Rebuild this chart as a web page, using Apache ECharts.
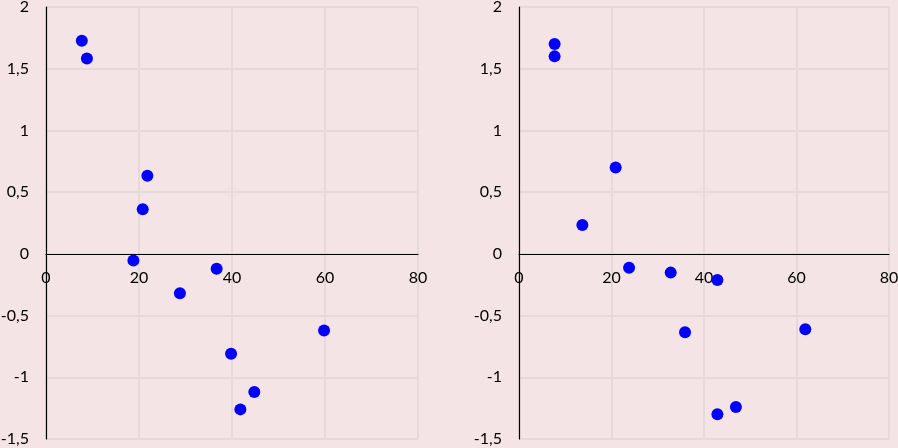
<!DOCTYPE html>
<html>
<head>
<meta charset="utf-8">
<script src="https://cdn.jsdelivr.net/npm/echarts@6/dist/echarts.min.js"></script>
<style>
  html, body { margin: 0; padding: 0; background: #f5e4e6; }
  #chart { width: 898px; height: 448px; }
</style>
</head>
<body>
<div id="chart"></div>
<script>
// left panel points
const leftX = [7.7, 8.8, 21.8, 20.8, 18.8, 36.7, 28.8, 39.8, 59.8, 44.8, 41.8]
const leftY = [1.726, 1.583, 0.632, 0.362, -0.054, -0.12, -0.32, -0.81, -0.62, -1.12, -1.26]

// right panel points
const rightX = [7.7, 7.7, 20.9, 13.7, 23.8, 32.8, 42.9, 35.9, 61.9, 46.9, 42.9]
const rightY = [1.70, 1.60, 0.70, 0.233, -0.113, -0.152, -0.211, -0.635, -0.61, -1.24, -1.30]

const xTicks = { min: 0, max: 80, interval: 20 }
const yTicks = { min: -1.5, max: 2, interval: 0.5 }

const gridTop = 7
const gridHeight = 432
// x axis sits at y = 0, so lift the whole axis (line + labels) up from the bottom
const zeroLift = -gridHeight * (0 - yTicks.min) / (yTicks.max - yTicks.min)

const pairs = (xs, ys) => xs.map((x, i) => [x, ys[i]])

const labelFont = {
  fontFamily: 'Lato',
  fontSize: 16,
  color: '#000'
}

const makeX = (gridIndex) => ({
  type: 'value',
  gridIndex,
  min: xTicks.min,
  max: xTicks.max,
  interval: xTicks.interval,
  position: 'bottom',
  offset: zeroLift,
  axisLine: { onZero: false, lineStyle: { color: '#000', width: 1.2 } },
  axisTick: { show: false },
  axisLabel: { ...labelFont, margin: 16 },
  splitLine: { lineStyle: { color: '#e6d9db', width: 2 } }
})

const makeY = (gridIndex) => ({
  type: 'value',
  gridIndex,
  min: yTicks.min,
  max: yTicks.max,
  interval: yTicks.interval,
  axisLine: { show: true, onZero: false, lineStyle: { color: '#000', width: 1.2 } },
  axisTick: { show: false },
  axisLabel: {
    ...labelFont,
    margin: 17,
    formatter: (v) => String(v).replace('.', ',')
  },
  splitLine: { lineStyle: { color: '#e6d9db', width: 2 } }
})

const dotStyle = {
  type: 'scatter',
  symbol: 'circle',
  symbolSize: 12,
  itemStyle: { color: '#0000ff', opacity: 1 }
}

const chart = echarts.init(document.getElementById('chart'))
chart.setOption({
  backgroundColor: '#f5e4e6',
  animation: false,
  grid: [
    { left: 46, top: gridTop, width: 372, height: gridHeight, outerBoundsMode: 'none' },
    { left: 519, top: gridTop, width: 370, height: gridHeight, outerBoundsMode: 'none' }
  ],
  xAxis: [makeX(0), makeX(1)],
  yAxis: [makeY(0), makeY(1)],
  series: [
    { ...dotStyle, xAxisIndex: 0, yAxisIndex: 0, data: pairs(leftX, leftY) },
    { ...dotStyle, xAxisIndex: 1, yAxisIndex: 1, data: pairs(rightX, rightY) }
  ]
})
</script>
</body>
</html>
